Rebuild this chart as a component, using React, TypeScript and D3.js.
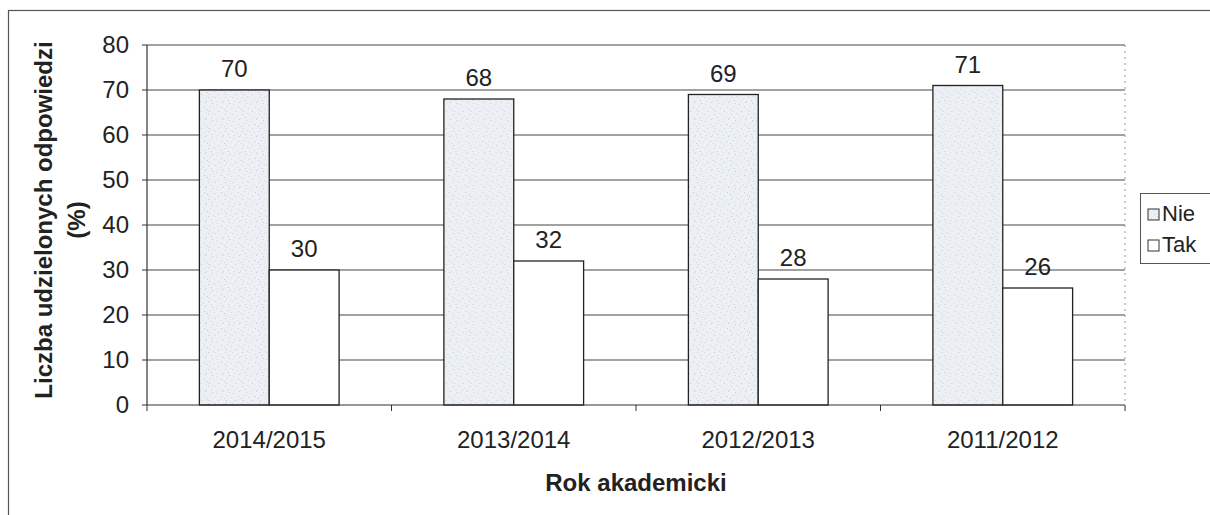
import * as d3 from 'd3';

const years = ['2014/2015', '2013/2014', '2012/2013', '2011/2012'];
const seriesNames = ['Nie', 'Tak'];
const nieValues = [70, 68, 69, 71];
const takValues = [30, 32, 28, 26];
const yTicks = [0, 10, 20, 30, 40, 50, 60, 70, 80];

const W = 1210;
const H = 515;
const plot = { left: 147, right: 1125, top: 45, bottom: 405 };
const FONT = '"Liberation Sans", Arial, sans-serif';

// scattered speckle positions inside a 17x17 tile (texture only)
const speckle = [
  [1, 2], [7, 0], [12, 4], [3, 9], [15, 11], [9, 7], [5, 14], [13, 15],
  [0, 12], [10, 12], [16, 6], [6, 5], [2, 16], [14, 1], [8, 16], [11, 9],
];

export default function App() {
  const x = d3.scaleBand<string>().domain(years).range([plot.left, plot.right]).padding(0);
  const xs = d3
    .scaleBand<string>()
    .domain(seriesNames)
    .range([0, x.bandwidth()])
    .paddingInner(0)
    .paddingOuter(0.75);
  const y = d3.scaleLinear().domain([0, 80]).range([plot.bottom, plot.top]);

  const rows = years.map((yr, i) => ({ yr, Nie: nieValues[i], Tak: takValues[i] }));

  return (
    <svg
      width={W}
      height={H}
      style={{ position: 'absolute', left: 0, top: 0, background: '#fff', fontFamily: FONT }}
    >
      <defs>
        <pattern id="speckle" width="17" height="17" patternUnits="userSpaceOnUse">
          <rect width="17" height="17" fill="#eceff3" />
          {speckle.map(([c, r], i) => (
            <rect key={i} x={c} y={r} width="1" height="1" fill={i % 2 ? '#c3ccd7' : '#d2d8e0'} />
          ))}
        </pattern>
      </defs>

      {/* outer frame */}
      <rect x={8.5} y={10.5} width={W + 20} height={H + 20} fill="none" stroke="#555" strokeWidth={1.2} />

      {/* gridlines */}
      {yTicks.slice(1).map((t) => (
        <line key={t} x1={plot.left} x2={plot.right} y1={y(t)} y2={y(t)} stroke="#444" strokeWidth={1} />
      ))}
      <line
        x1={plot.right}
        x2={plot.right}
        y1={plot.top}
        y2={plot.bottom}
        stroke="#999"
        strokeWidth={1}
        strokeDasharray="2 4"
      />

      {/* bars */}
      {rows.map((d) => (
        <g key={d.yr} transform={`translate(${x(d.yr)},0)`}>
          <rect
            x={xs('Nie')}
            y={y(d.Nie)}
            width={xs.bandwidth()}
            height={y(0) - y(d.Nie)}
            fill="url(#speckle)"
            stroke="#222"
            strokeWidth={1.3}
          />
          <rect
            x={xs('Tak')}
            y={y(d.Tak)}
            width={xs.bandwidth()}
            height={y(0) - y(d.Tak)}
            fill="#fff"
            stroke="#222"
            strokeWidth={1.3}
          />
          <text
            x={(xs('Nie') ?? 0) + xs.bandwidth() / 2}
            y={y(d.Nie) - 13}
            textAnchor="middle"
            fontSize={24}
            fill="#222"
          >
            {d.Nie}
          </text>
          <text
            x={(xs('Tak') ?? 0) + xs.bandwidth() / 2}
            y={y(d.Tak) - 13}
            textAnchor="middle"
            fontSize={24}
            fill="#222"
          >
            {d.Tak}
          </text>
        </g>
      ))}

      {/* y axis */}
      <line x1={plot.left} x2={plot.left} y1={plot.top} y2={plot.bottom} stroke="#333" strokeWidth={1.2} />
      {yTicks.map((t) => (
        <g key={t}>
          <line x1={plot.left - 5} x2={plot.left} y1={y(t)} y2={y(t)} stroke="#333" />
          <text x={129} y={y(t) + 8} textAnchor="end" fontSize={24} fill="#222">
            {t}
          </text>
        </g>
      ))}

      {/* x axis */}
      <line x1={plot.left} x2={plot.right} y1={plot.bottom} y2={plot.bottom} stroke="#333" strokeWidth={1.2} />
      {[...years.map((yr) => x(yr) ?? 0), plot.right].map((px, i) => (
        <line key={i} x1={px} x2={px} y1={plot.bottom} y2={plot.bottom + 6} stroke="#333" />
      ))}
      {years.map((yr) => (
        <text
          key={yr}
          x={(x(yr) ?? 0) + x.bandwidth() / 2}
          y={plot.bottom + 43}
          textAnchor="middle"
          fontSize={24}
          fill="#222"
        >
          {yr}
        </text>
      ))}

      {/* axis titles */}
      <text x={(plot.left + plot.right) / 2} y={491} textAnchor="middle" fontSize={24} fontWeight="bold" fill="#222">
        Rok akademicki
      </text>
      <g transform="translate(52,220) rotate(-90)">
        <text x={0} y={0} textAnchor="middle" fontSize={24} fontWeight="bold" fill="#222">
          Liczba udzielonych odpowiedzi
        </text>
        <text x={0} y={33} textAnchor="middle" fontSize={24} fontWeight="bold" fill="#222">
          (%)
        </text>
      </g>

      {/* legend */}
      <rect x={1140.5} y={193.5} width={100} height={70} fill="#fff" stroke="#555" />
      {seriesNames.map((s, i) => (
        <g key={s} transform={`translate(1148,${209 + i * 31})`}>
          <rect
            width={11}
            height={11}
            fill={s === 'Nie' ? 'url(#speckle)' : '#fff'}
            stroke="#333"
          />
          <text x={14} y={12} fontSize={22} fill="#222">
            {s}
          </text>
        </g>
      ))}
    </svg>
  );
}
